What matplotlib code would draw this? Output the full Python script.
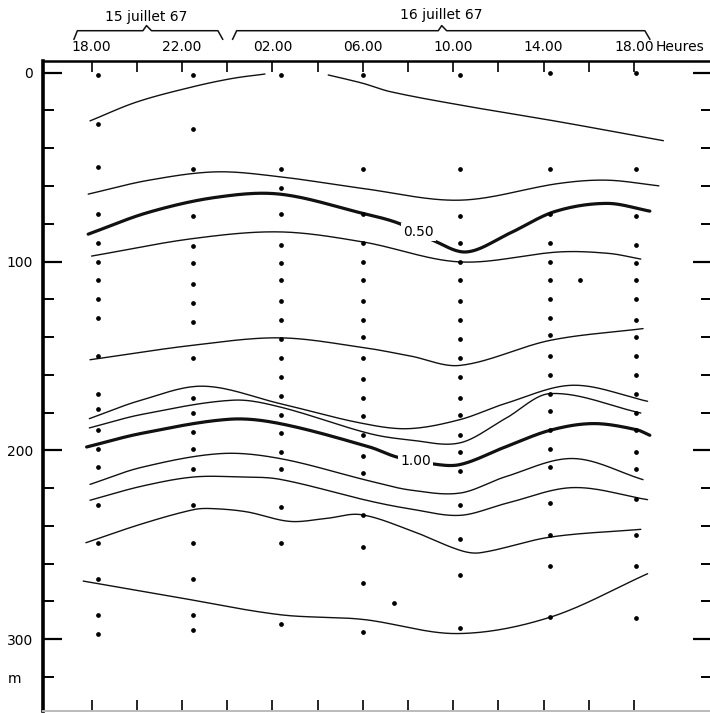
"""
Isolines of a depth section, 15-16 July 1967
"""

import numpy as np
import matplotlib
matplotlib.use("Agg")
import matplotlib.pyplot as plt

# sampling stations: hours counted from 18.00 on 15 July, depths in m
stationHours = [0.3, 4.5, 8.4, 12.0, 16.3, 20.3, 24.1]
stationDepths = [
    [1, 27, 50, 75, 90, 100, 110, 120, 130, 150, 170, 178, 189, 199, 209, 229, 249, 268, 287, 297],
    [1, 30, 51, 76, 92, 101, 112, 122, 132, 151, 172, 180, 190, 199, 210, 229, 249, 268, 287, 295],
    [1, 51, 61, 75, 91, 101, 110, 121, 131, 141, 151, 161, 171, 181, 191, 201, 210, 230, 249, 292],
    [1, 51, 75, 90, 100, 110, 121, 131, 140, 151, 162, 172, 182, 192, 203, 212, 234, 251, 270, 296],
    [1, 51, 76, 90, 100, 110, 121, 131, 141, 151, 161, 172, 181, 192, 201, 211, 229, 247, 266, 294],
    [0, 51, 75, 90, 100, 110, 120, 130, 139, 150, 160, 170, 179, 189, 199, 209, 228, 245, 261, 288],
    [0, 51, 76, 91, 101, 110, 120, 131, 140, 150, 160, 170, 180, 189, 201, 210, 226, 245, 261, 289],
]
extraHours = [13.4, 21.6]
extraDepths = [281, 110]

# isolines (hours, depth)
lineA1 = ([-0.07, 2.0, 4.5, 6.25, 7.67], [25.5, 15.5, 7.4, 3.0, 0.7])
lineA2 = ([10.47, 12.0, 13.2, 16.3, 20.7, 25.3], [1.2, 5.6, 10.0, 17.1, 26.0, 36.0])
lineB = ([-0.15, 2.5, 5.5, 8.33, 12.0, 16.3, 20.7, 22.8, 25.1],
         [64.3, 57, 52.5, 55.1, 61.3, 67.5, 58.6, 56.9, 59.9])
line050 = ([-0.15, 2.5, 5.5, 8.33, 12.0, 13.6, 15.1, 16.6, 18.5, 20.5, 22.8, 24.7],
           [85.5, 74, 66, 64.3, 74.5, 79.8, 88.7, 94.9, 85, 73.5, 69.2, 73.3])
lineD = ([0, 4.5, 8.33, 12, 16.3, 20.7, 22.9, 24.3], [97.1, 87.8, 84.3, 89.6, 100.2, 94.9, 95.7, 98.7])
lineE = ([-0.07, 4.5, 8.33, 12, 14.1, 16.3, 20.3, 24.4], [152, 144.3, 140.4, 145.5, 150, 155, 141.7, 135.5])
lineF = ([-0.1, 2.14, 4.94, 8.33, 11.9, 14.0, 16.3, 18.3, 21.3, 24.6],
         [183.2, 173.6, 166, 175.2, 185.5, 188.5, 183.7, 175.2, 165.5, 174])
lineG = ([-0.1, 2.2, 6.27, 8.33, 12.3, 14.1, 16.3, 18.3, 20.3, 24.3],
         [188.1, 181, 173.4, 177, 191.1, 194.5, 196, 183.2, 169.9, 180.2])
line100 = ([-0.22, 2.2, 6.1, 8.33, 12.3, 13.5, 15.0, 16.3, 18.3, 20.3, 22.2, 24.1, 24.7],
           [198.2, 191, 183.5, 185.8, 198.2, 203.5, 207, 207.5, 198.2, 189.3, 185.8, 189, 192])
lineI = ([-0.07, 2.2, 5.7, 8.33, 12.3, 14.1, 16.3, 18.3, 21.3, 24.4],
         [218, 209, 201.7, 204.3, 216.2, 221, 222.6, 214, 204.3, 215.5])
lineJ = ([-0.07, 2.2, 4.5, 6.6, 8.33, 12.3, 14.1, 16.3, 18.3, 21.3, 24.6],
         [226.4, 219, 214.1, 214.1, 215.3, 226.8, 231, 234.4, 228.2, 219.7, 226.1])
lineK = ([-0.25, 2.2, 4.5, 5.3, 6.85, 8.77, 10.4, 11.9, 14.1, 16.3, 17.2, 20.3, 24.3],
         [248.9, 239, 231.4, 230.8, 232.5, 237.6, 236, 234, 242.3, 252.9, 254.2, 245.9, 241.8])
lineL = ([-0.37, 3.55, 8.33, 12, 16.2, 20.3, 24.6], [269.2, 277.3, 287, 289.5, 297, 288.3, 265.3])

thinLines = [lineA1, lineA2, lineB, lineD, lineE, lineF, lineG, lineI, lineJ, lineK, lineL]
thickLines = [line050, line100]
lineLabels = ["0.50", "1.00"]
labelHours = [14.45, 14.35]
labelDepths = [84.5, 205.5]

hourTicks = [0, 4, 8, 12, 16, 20, 24]
hourLabels = ["18.00", "22.00", "02.00", "06.00", "10.00", "14.00", "18.00"]
depthTicks = [0, 100, 200, 300]

# date brackets above the time axis (x in hours, y in axes fraction)
bracket1 = ([-0.78, -0.63, 2.27, 2.43, 2.65, 5.59, 5.8],
            [1.0335, 1.0466, 1.0466, 1.0545, 1.0466, 1.0466, 1.0335])
bracket2 = ([6.24, 6.42, 15.34, 15.49, 15.71, 24.48, 24.7],
            [1.0335, 1.0466, 1.0466, 1.0545, 1.0466, 1.0466, 1.0335])


def smooth(xs, ys, n=30):
    """cubic hermite curve y(x) through the read points"""
    x = np.asarray(xs, float)
    y = np.asarray(ys, float)
    m = np.empty_like(y)
    m[1:-1] = (y[2:] - y[:-2]) / (x[2:] - x[:-2])
    m[0] = (y[1] - y[0]) / (x[1] - x[0])
    m[-1] = (y[-1] - y[-2]) / (x[-1] - x[-2])
    xo, yo = [], []
    for i in range(len(x) - 1):
        h = x[i+1] - x[i]
        t = np.linspace(0, 1, n, endpoint=False)
        h00 = 2*t**3 - 3*t**2 + 1
        h10 = t**3 - 2*t**2 + t
        h01 = -2*t**3 + 3*t**2
        h11 = t**3 - t**2
        xo.append(x[i] + t*h)
        yo.append(h00*y[i] + h10*h*m[i] + h01*y[i+1] + h11*h*m[i+1])
    xo.append([x[-1]])
    yo.append([y[-1]])
    return np.concatenate(xo), np.concatenate(yo)


def main():
    fig = plt.figure(figsize=(7.10, 7.13), dpi=100)
    ax = fig.add_axes([43/710, 2/713, 669/710, 650/713])

    for line in thinLines:
        x, y = smooth(*line)
        ax.plot(x, y, color='#111111', lw=1.0, solid_capstyle='round')
    for line in thickLines:
        x, y = smooth(*line)
        ax.plot(x, y, color='#111111', lw=2.3, solid_capstyle='round')

    for lab, h, d in zip(lineLabels, labelHours, labelDepths):
        ax.text(h, d, lab, ha='center', va='center', fontsize=10, zorder=5,
                bbox=dict(facecolor='white', edgecolor='none', pad=1.5))

    for h, depths in zip(stationHours, stationDepths):
        ax.plot([h]*len(depths), depths, 'o', ms=2.4, color='black', zorder=6)
    ax.plot(extraHours, extraDepths, 'o', ms=2.4, color='black', zorder=6)

    ax.set_xlim(-2.15, 27.45)
    ax.set_ylim(338, -6.2)

    ax.set_xticks(hourTicks)
    ax.set_xticklabels(hourLabels)
    ax.set_xticks(np.arange(2, 24, 4), minor=True)
    ax.tick_params(axis='x', which='both', direction='in', top=True, bottom=True,
                   labeltop=True, labelbottom=False, length=8, width=1.2, pad=5, labelsize=10)

    ax.set_yticks(depthTicks)
    ax.set_yticks(np.arange(20, 340, 20), minor=True)
    ax.tick_params(axis='y', which='major', direction='in', left=True, right=True,
                   length=14, width=1.6, pad=7, labelsize=10)
    ax.tick_params(axis='y', which='minor', direction='in', left=True, right=True,
                   length=8, width=1.4)
    ax.text(-0.032, 321, "m", transform=ax.get_yaxis_transform(), ha='right', va='center',
            fontsize=10)

    ax.spines['left'].set_linewidth(2.6)
    ax.spines['top'].set_linewidth(1.8)
    ax.spines['bottom'].set_linewidth(1.4)
    ax.spines['bottom'].set_color('#bbbbbb')
    ax.spines['right'].set_visible(False)

    tr = ax.get_xaxis_transform()
    ax.text(24.95, 1.0215, "Heures", transform=tr, ha='left', va='center', fontsize=10)
    for br in (bracket1, bracket2):
        ax.plot(br[0], br[1], color='#111111', lw=1.1, transform=tr, clip_on=False)
    ax.text(2.43, 1.0677, "15 juillet 67", transform=tr, ha='center', va='center', fontsize=10)
    ax.text(15.49, 1.0708, "16 juillet 67", transform=tr, ha='center', va='center', fontsize=10)

    fig.savefig("out.png", dpi=100)


if __name__ == "__main__":
    main()
